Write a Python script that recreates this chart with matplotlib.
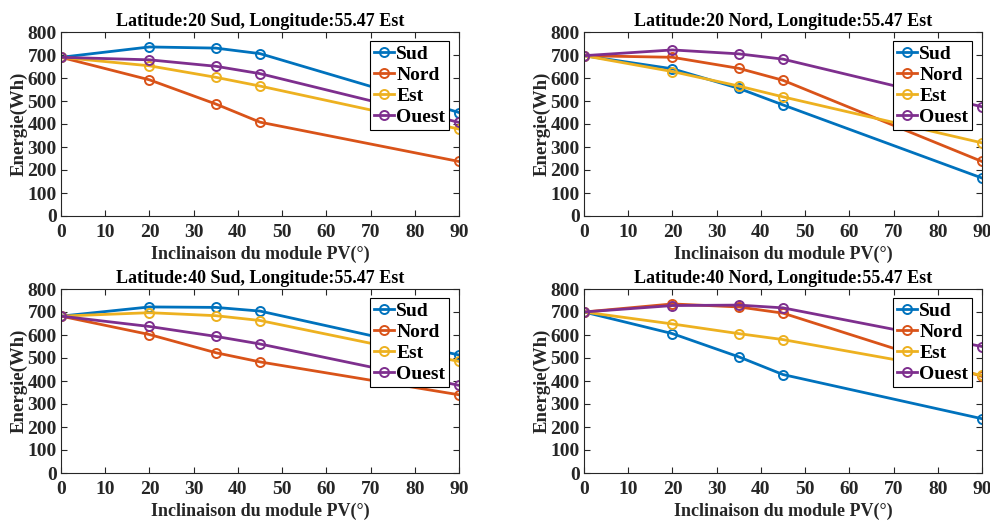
import matplotlib
matplotlib.use('Agg')
import matplotlib.pyplot as plt

# Data
inclinaison = [0, 20, 35, 45, 90]
orientations = ['Sud', 'Nord', 'Est', 'Ouest']

titles = ['Latitude:20 Sud, Longitude:55.47 Est',
          'Latitude:20 Nord, Longitude:55.47 Est',
          'Latitude:40 Sud, Longitude:55.47 Est',
          'Latitude:40 Nord, Longitude:55.47 Est']

# 20 Sud
sud_20s = [690, 735, 730, 706, 450]
nord_20s = [690, 592, 487, 408, 237]
est_20s = [690, 653, 603, 565, 378]
ouest_20s = [690, 679, 651, 619, 407]

# 20 Nord
sud_20n = [697, 640, 555, 483, 165]
nord_20n = [697, 690, 642, 590, 237]
est_20n = [697, 628, 565, 518, 318]
ouest_20n = [697, 722, 705, 682, 475]

# 40 Sud
sud_40s = [682, 722, 720, 704, 513]
nord_40s = [682, 602, 523, 483, 340]
est_40s = [682, 697, 684, 663, 485]
ouest_40s = [682, 637, 594, 561, 381]

# 40 Nord
sud_40n = [700, 606, 505, 428, 236]
nord_40n = [700, 735, 722, 695, 420]
est_40n = [700, 648, 606, 580, 425]
ouest_40n = [700, 728, 730, 718, 550]

panels = [
    [sud_20s, nord_20s, est_20s, ouest_20s],
    [sud_20n, nord_20n, est_20n, ouest_20n],
    [sud_40s, nord_40s, est_40s, ouest_40s],
    [sud_40n, nord_40n, est_40n, ouest_40n],
]

colors = ['#0072BD', '#D95319', '#EDB120', '#7E2F8E']
text_color = '#262626'

plt.rcParams['font.family'] = ['Liberation Serif', 'DejaVu Serif']
plt.rcParams['font.weight'] = 'bold'

fig = plt.figure(figsize=(9.9, 5.24), dpi=100)
W, H = 990.0, 524.0

# axes boxes in pixels: left, top, right, bottom
boxes = [(61, 32, 459, 216), (584, 32, 982, 216),
         (61, 289, 459, 473), (584, 289, 982, 473)]

for box, title, series in zip(boxes, titles, panels):
    l, t, r, b = box
    ax = fig.add_axes([l / W, 1 - b / H, (r - l) / W, (b - t) / H])
    for name, vals, c in zip(orientations, series, colors):
        ax.plot(inclinaison, vals, color=c, lw=2, marker='o', ms=6.5,
                mfc='none', mew=1.4, label=name)
    ax.set_xlim(0, 90)
    ax.set_ylim(0, 800)
    ax.set_xticks(range(0, 91, 10))
    ax.set_yticks(range(0, 801, 100))
    ax.tick_params(direction='in', top=True, right=True, length=4,
                   labelsize=14, colors=text_color, width=0.8)
    ax.tick_params(axis='x', pad=6)
    ax.tick_params(axis='y', pad=3)
    for lab in ax.get_xticklabels() + ax.get_yticklabels():
        lab.set_fontweight('bold')
    for sp in ax.spines.values():
        sp.set_color('#262626')
        sp.set_linewidth(0.8)
    ax.set_title(title, fontsize=13, fontweight='bold', color='black', pad=4)
    ax.set_xlabel('Inclinaison du module PV(°)', fontsize=13,
                  fontweight='bold', color=text_color, labelpad=3)
    ax.set_ylabel('Energie(Wh)', fontsize=13.5, fontweight='bold',
                  color=text_color, labelpad=0)
    leg = ax.legend(loc='upper right', bbox_to_anchor=(0.975, 0.95),
                    fancybox=False, framealpha=1, edgecolor='black',
                    prop={'size': 14, 'weight': 'bold'},
                    handlelength=1.0, handletextpad=0.12, labelspacing=0.18,
                    borderpad=0.2, borderaxespad=0)
    leg.get_frame().set_linewidth(0.8)

fig.savefig('out.png', dpi=100)
